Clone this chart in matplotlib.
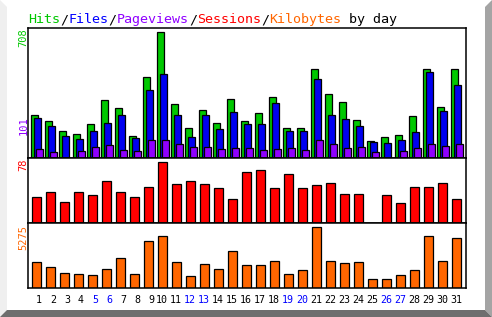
import numpy as np
import matplotlib
matplotlib.use("Agg")
import matplotlib.pyplot as plt
from matplotlib.patches import Polygon

days = list(range(1, 32))
weekend_days = [5, 6, 12, 13, 19, 20, 26, 27]
hits = [242, 208, 152, 135, 191, 326, 281, 124, 455, 708, 303, 169, 270, 197, 332, 208,
        253, 343, 169, 169, 500, 360, 315, 214, 96, 118, 129, 236, 500, 287, 500]
files = [225, 180, 124, 107, 152, 197, 242, 112, 382, 472, 242, 118, 242, 163, 258, 191,
         191, 309, 152, 152, 444, 242, 219, 180, 90, 84, 101, 146, 483, 264, 410]
pageviews = [53, 36, 0, 42, 65, 77, 48, 42, 101, 101, 83, 65, 65, 53, 59, 59,
             48, 53, 59, 48, 101, 83, 59, 65, 36, 0, 42, 59, 83, 71, 83]
sessions = [33, 40, 27, 40, 36, 54, 40, 33, 47, 78, 50, 54, 50, 45, 31, 66,
            68, 45, 63, 45, 49, 51, 38, 38, 0, 36, 26, 47, 47, 51, 31]
kbytes = [2249, 1816, 1297, 1211, 1124, 1643, 2594, 1211, 4065, 4497, 2249, 1038, 2076, 1643, 3200, 1989,
          1989, 2335, 1211, 1557, 5275, 2335, 2162, 2249, 778, 778, 1124, 1557, 4497, 2335, 4325]
title_parts = [("Hits", "#00c800"), ("/", "black"), ("Files", "#0000ff"), ("/", "black"),
               ("Pageviews", "#9000ff"), ("/", "black"), ("Sessions", "#ff0000"), ("/", "black"),
               ("Kilobytes", "#ff6600"), (" by day", "black")]

W, H = 492, 317
GREEN, BLUE, PURPLE, RED, ORANGE = "#00c800", "#0000f0", "#9000ff", "#ff0000", "#ff6600"
MONO = "DejaVu Sans Mono"

fig = plt.figure(figsize=(W / 100, H / 100), dpi=100)
fig.patch.set_facecolor("white")

def px_axes(left, top, right, bottom):
    return fig.add_axes([left / W, 1 - bottom / H, (right - left) / W, (bottom - top) / H])

# bevel frame
def fpoly(pts, color):
    fig.patches.append(Polygon([(x / W, 1 - y / H) for x, y in pts], closed=True,
                               facecolor=color, edgecolor="none", transform=fig.transFigure))
b = 7
fpoly([(0, 0), (b, b), (b, H - b), (0, H)], "#efefef")
fpoly([(W, 0), (W, H), (W - b, H - b), (W - b, b)], "#a4a4a4")
fpoly([(0, H), (W, H), (W - b, H - b), (b, H - b)], "#6e6e6e")

L, R = 28.3, 465.7
xl = (1 - 4 / 14, 1 - 4 / 14 + (R - L) / 14)
x = np.array(days, dtype=float)

ax1 = px_axes(L, 28.3, R, 158.3)
ax2 = px_axes(L, 158.3, R, 223.3)
ax3 = px_axes(L, 223.3, R, 288.3)

lw = 0.9
ax1.bar(x - 1 / 14, hits, width=6.3 / 14, align="edge", color=GREEN, edgecolor="black", linewidth=lw)
ax1.bar(x + 2.1 / 14, files, width=6.3 / 14, align="edge", color=BLUE, edgecolor="black", linewidth=lw)
pv = np.array(pageviews)
m = pv > 0
ax1.bar(x[m] + 4.1 / 14, pv[m], width=6.3 / 14, align="edge", color=PURPLE, edgecolor="black", linewidth=lw)
ax1.set_ylim(0, max(hits) * 130 / 126)

ss = np.array(sessions)
m = ss > 0
ax2.bar(x[m], ss[m], width=8.3 / 14, align="edge", color=RED, edgecolor="black", linewidth=lw)
ax2.set_ylim(0, max(sessions) * 65 / 61)

ax3.bar(x, kbytes, width=8.3 / 14, align="edge", color=ORANGE, edgecolor="black", linewidth=lw)
ax3.set_ylim(0, max(kbytes) * 65 / 61)

for ax in (ax1, ax2, ax3):
    ax.set_xlim(*xl)
    ax.set_yticks([])
    ax.set_facecolor("white")
    for s in ax.spines.values():
        s.set_linewidth(1.1)
        s.set_color("black")
    ax.tick_params(length=0)
for ax in (ax1, ax2):
    ax.set_xticks([])

ax3.set_xticks(x + 0.69)
ax3.set_xticklabels([str(d) for d in days], fontfamily=MONO, fontsize=7.2)
for d, lab in zip(days, ax3.get_xticklabels()):
    lab.set_ha("right")
    lab.set_color("#0000ff" if d in weekend_days else "black")
ax3.tick_params(axis="x", pad=5)

# title
cw = 0.602 * 9.6 * 100 / 72
cx = 28.3
for txt, col in title_parts:
    fig.text(cx / W, 1 - 23.3 / H, txt, color=col, fontfamily=MONO, fontsize=9.6,
             ha="left", va="baseline")
    cx += cw * len(txt)

# side labels
def side(txt, col, ytop=None, ycen=None):
    if ytop is not None:
        fig.text(23.5 / W, 1 - ytop / H, txt, color=col, rotation=90, fontfamily=MONO,
                 fontsize=7.5, ha="center", va="top")
    else:
        fig.text(23.5 / W, 1 - ycen / H, txt, color=col, rotation=90, fontfamily=MONO,
                 fontsize=7.5, ha="center", va="center")

side(str(max(hits)), GREEN, ytop=28.3)
side(str(max(pageviews)), PURPLE, ycen=126)
side(str(max(sessions)), RED, ytop=158.5)
side(str(max(kbytes)), ORANGE, ytop=224.5)

fig.savefig("out.png", dpi=100, facecolor="white")
